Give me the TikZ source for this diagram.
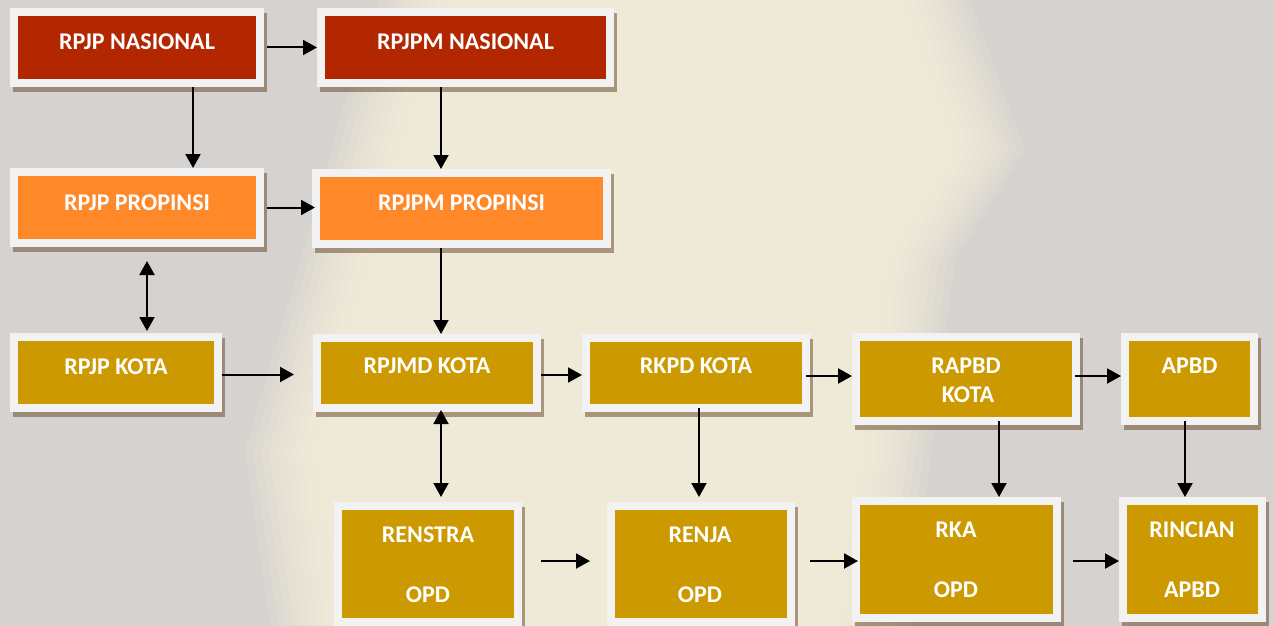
\documentclass[tikz,border=0pt]{standalone}
\usepackage{fontspec}
\setmainfont{Carlito}
\usetikzlibrary{arrows.meta,shadows}
\definecolor{bg}{RGB}{214,210,207}
\definecolor{cream}{RGB}{252,246,222}
\definecolor{natred}{RGB}{178,38,0}
\definecolor{provor}{RGB}{255,136,40}
\definecolor{kotagold}{RGB}{204,153,0}
\definecolor{frameclr}{RGB}{242,242,242}
\definecolor{shadowclr}{RGB}{110,80,50}
\newcommand\blobshape[1]{%
  \fill[cream, opacity=0.13] (420-#1,0) -- (930+#1,0) -- (985+#1,150) -- (915+#1,260) -- (870+#1,626) -- (310-#1,626) -- (285-#1,450) -- (335-#1,280) -- (385-#1,100) -- cycle;}
\begin{document}
\begin{tikzpicture}[x=1pt,y=-1pt,
 pbox/.style={draw=none, fill=frameclr, inner sep=0pt, outer sep=0pt, rectangle,
   drop shadow={shadow xshift=3pt, shadow yshift=-5pt, fill=shadowclr, opacity=0.55},
   path picture={\fill[#1] ([shift={(8pt,-8pt)}]path picture bounding box.north west) rectangle ([shift={(-8pt,8pt)}]path picture bounding box.south east);}},
 lbl/.style={font=\bfseries\fontsize{24}{28}\selectfont, text=white, inner sep=0pt, anchor=base},
 conn/.style={line width=2pt, -{Triangle[length=14pt,width=15pt]}},
 both/.style={line width=2pt, {Triangle[length=14pt,width=15pt]}-{Triangle[length=14pt,width=15pt]}},
]
% background
\fill[bg] (0,0) rectangle (1274,626);
\useasboundingbox (0,0) rectangle (1274,626);
\foreach \d in {40,32,24,16,8,0,-8,-16,-24,-32} {\blobshape{\d}}

% boxes
\node[pbox=natred, minimum width=254pt, minimum height=79pt] (rpjpnas) at (137,47.5) {};
\node[pbox=natred, minimum width=297pt, minimum height=79pt] (rpjpmnas) at (465.5,47.5) {};
\node[pbox=provor, minimum width=254pt, minimum height=79pt] (rpjpprop) at (137,207.5) {};
\node[pbox=provor, minimum width=299pt, minimum height=79pt] (rpjpmprop) at (461.5,208.5) {};
\node[pbox=kotagold, minimum width=212pt, minimum height=79pt] (rpjpkota) at (116,372.5) {};
\node[pbox=kotagold, minimum width=228pt, minimum height=78pt] (rpjmd) at (427,373) {};
\node[pbox=kotagold, minimum width=228pt, minimum height=78pt] (rkpd) at (696,373) {};
\node[pbox=kotagold, minimum width=228pt, minimum height=92pt] (rapbd) at (966,379) {};
\node[pbox=kotagold, minimum width=137pt, minimum height=92pt] (apbd) at (1189.5,379) {};
\node[pbox=kotagold, minimum width=188pt, minimum height=124pt] (renstra) at (428,564) {};
\node[pbox=kotagold, minimum width=188pt, minimum height=124pt] (renja) at (701,564) {};
\node[pbox=kotagold, minimum width=209pt, minimum height=125pt] (rka) at (956.5,559.5) {};
\node[pbox=kotagold, minimum width=147pt, minimum height=125pt] (rincian) at (1192.5,559.5) {};

% labels
\node[lbl] (l1) at (137,49) {RPJP NASIONAL};
\node[lbl] (l2) at (465.5,49) {RPJPM NASIONAL};
\node[lbl] (l3) at (137,210) {RPJP PROPINSI};
\node[lbl] (l4) at (461.5,210) {RPJPM PROPINSI};
\node[lbl] (l5) at (116,374) {RPJP KOTA};
\node[lbl] (l6) at (427,373) {RPJMD KOTA};
\node[lbl] (l7) at (696,373) {RKPD KOTA};
\node[lbl] (l8a) at (966,373) {RAPBD};
\node[lbl] (l8b) at (968,402) {KOTA};
\node[lbl] (l9) at (1189.5,373) {APBD};
\node[lbl] (l10a) at (428,542) {RENSTRA};
\node[lbl] (l10b) at (428,602) {OPD};
\node[lbl] (l11a) at (700,542) {RENJA};
\node[lbl] (l11b) at (700,602) {OPD};
\node[lbl] (l12a) at (956,537) {RKA};
\node[lbl] (l12b) at (956,597) {OPD};
\node[lbl] (l13a) at (1192,537) {RINCIAN};
\node[lbl] (l13b) at (1192,597) {APBD};

% connectors
\draw[conn] ([xshift=3pt]rpjpnas.east) -- (rpjpmnas.west);
\draw[conn] (193,0 |- rpjpnas.south) -- (193,0 |- rpjpprop.north);
\draw[conn] (441,0 |- rpjpmnas.south) -- (441,0 |- rpjpmprop.north);
\draw[conn] ([xshift=3pt]rpjpprop.east) -- ([xshift=3pt]rpjpprop.east -| rpjpmprop.west);
\draw[both] ([yshift=-14pt]rpjpprop.south -| 147,0) -- ([yshift=2pt]rpjpkota.north -| 147,0);
\draw[conn] (441,0 |- rpjpmprop.south) -- (441,0 |- rpjmd.north);
\draw[conn] ([yshift=-2pt]rpjpkota.east) -- ([xshift=-19pt,yshift=-2pt]rpjpkota.east -| rpjmd.west);
\draw[conn] ([yshift=-2pt]rpjmd.east) -- ([yshift=-2pt]rpjmd.east -| rkpd.west);
\draw[conn] ([xshift=-4pt,yshift=-3pt]rkpd.east) -- ([yshift=-3pt]rkpd.east -| rapbd.west);
\draw[conn] ([xshift=-5pt,yshift=3pt]rapbd.east) -- ([yshift=3pt]rapbd.east -| apbd.west);
\draw[both] ([yshift=2pt]rpjmd.south -| 441,0) -- ([yshift=5pt]renstra.north -| 441,0);
\draw[conn] ([yshift=4pt]rkpd.south -| 699,0) -- ([yshift=5pt]renja.north -| 699,0);
\draw[conn] ([yshift=4pt]rapbd.south -| 999,0) -- (rka.north -| 999,0);
\draw[conn] ([yshift=4pt]apbd.south -| 1185,0) -- (rincian.north -| 1185,0);
\draw[conn] ([xshift=19pt,yshift=3pt]renstra.east) -- ([xshift=-17pt,yshift=3pt]renstra.east -| renja.west);
\draw[conn] ([xshift=15pt,yshift=3pt]renja.east) -- ([xshift=6pt,yshift=3pt]renja.east -| rka.west);
\draw[conn] ([xshift=12pt,yshift=-1.5pt]rka.east) -- ([yshift=-1.5pt]rka.east -| rincian.west);
\end{tikzpicture}
\end{document}
